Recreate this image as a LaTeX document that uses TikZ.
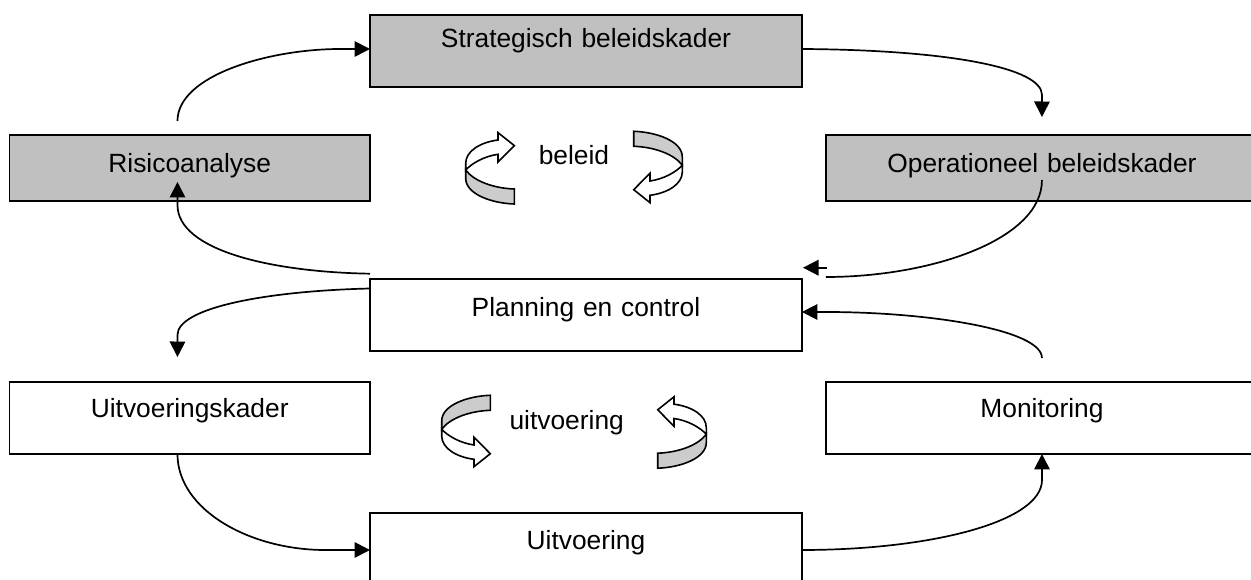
\documentclass[tikz,border=0pt]{standalone}
\usepackage{fontspec}
\setmainfont{Liberation Sans}
\usetikzlibrary{arrows.meta}

\definecolor{kadergrijs}{HTML}{C0C0C0}
\definecolor{bandgrijs}{HTML}{CCCCCC}

\tikzset{
  kader/.style={draw, line width=.036cm, anchor=north west, inner sep=0pt, outer sep=0pt, align=center,
    font=\fontsize{15}{17}\selectfont, text height=.72cm, text depth=.72cm},
  smalkader/.style={kader, text width=7.21cm},
  breedkader/.style={kader, text width=8.64cm},
  flow/.style={line width=.034cm, -{Triangle[length=.31cm,width=.31cm]}},
  kringtekst/.style={anchor=base, inner sep=0pt, font=\fontsize{15}{17}\selectfont},
  kringpijl/.pic={
    \draw [line width=.032cm, fill=white] (-24.3,1.7) -- (-24.3,-5) .. controls (-24.3,-17) and (-10,-26) .. (8,-28.3) -- (8,-35.7) -- (24.3,-22.7) -- (8,-6.3) -- (8,-14) .. controls (-6,-12) and (-18,-5) .. (-24.3,1.7) -- cycle;
    \draw [line width=.032cm, fill=bandgrijs] (-24.3,1.7) .. controls (-16,13) and (4,20) .. (24.3,20.7) -- (24.3,35.7) .. controls (2,35) and (-24.3,26) .. (-24.3,10) -- cycle;
  }
}

\begin{document}
\begin{tikzpicture}[x=.02cm, y=-.02cm]

\path [use as bounding box, clip] (0,0) rectangle (1251,580);

\node [breedkader, fill=kadergrijs, text height=.66cm, text depth=.78cm] (strat) at (370,15) {Strategisch beleidskader};
\node [smalkader, fill=kadergrijs, text height=.75cm, text depth=.57cm] (risico) at (9.5,135) {Risicoanalyse};
\node [breedkader, fill=kadergrijs, text height=.75cm, text depth=.57cm] (oper) at (826,135) {Operationeel beleidskader};
\node [breedkader, text height=.76cm, text depth=.68cm] (plan) at (370,279) {Planning en control};
\node [smalkader] (uitkader) at (9.5,382) {Uitvoeringskader};
\node [breedkader] (mon) at (826,382) {Monitoring};
\node [breedkader, text height=.74cm, text depth=.74cm] (uitv) at (370,513) {Uitvoering};

\coordinate (losstart) at (827,267.7);
\coordinate (loseind) at (803,267.7);

\draw [flow] ([xshift=-.245cm,yshift=.28cm]risico.north) .. controls (177.5,75) and (270,49) .. (340,49) -- ([yshift=.04cm]strat.west);
\draw [flow] ([yshift=.04cm]strat.east) .. controls (950,50) and (1042,68) .. (1042,95) -- ([yshift=.36cm]oper.north);
\draw [line width=.034cm] ([yshift=.42cm]oper.south) .. controls (1042,240) and (930,277) .. ([xshift=.48cm,yshift=.76cm]plan.east);
\draw [flow] (losstart) -- (loseind);
\draw [flow] ([yshift=.826cm]plan.west) .. controls (270,272) and (177.5,250) .. (177.5,205) -- ([xshift=-.245cm,yshift=.38cm]risico.south);
\draw [flow] ([yshift=.53cm]plan.west) .. controls (265,291) and (177.5,308) .. (177.5,335) -- ([xshift=-.245cm,yshift=.5cm]uitkader.north);
\draw [flow] ([xshift=-.245cm]uitkader.south) .. controls (177.5,510) and (250,550) .. (325,550) -- (uitv.west);
\draw [flow] (uitv.east) .. controls (930,550) and (1042,522) .. (1042,480) -- (mon.south);
\draw [flow] ([yshift=.48cm]mon.north) .. controls (1042,330) and (930,312) .. (826,312) -- ([yshift=.06cm]plan.east);

\pic at (490,168.3) {kringpijl};
\pic [rotate=180] at (658,167) {kringpijl};
\pic [yscale=-1] at (466,431) {kringpijl};
\pic [xscale=-1] at (682,432.5) {kringpijl};

\node [kringtekst] (beleid) at (574,165) {beleid};
\node [kringtekst] (uitvoering) at (566.7,430) {uitvoering};

\end{tikzpicture}
\end{document}
